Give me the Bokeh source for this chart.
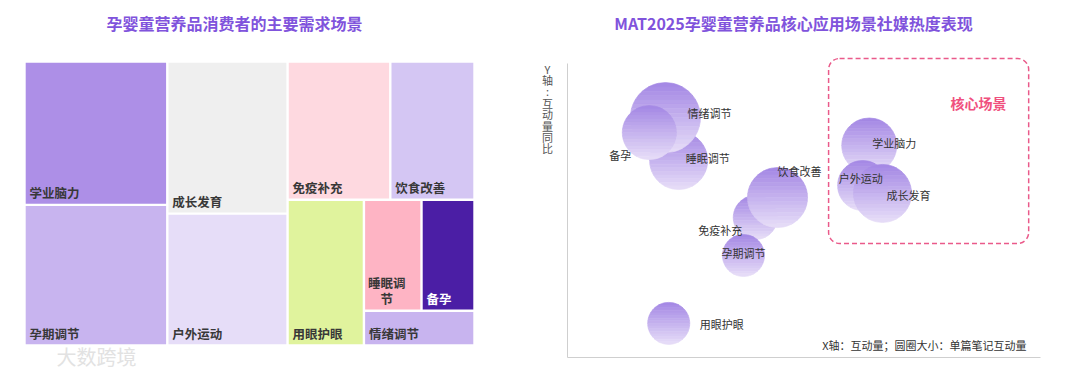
import math
from bokeh.plotting import figure
from bokeh.models import Range1d, BoxAnnotation
from bokeh.core.properties import value
from bokeh.embed import file_html
from bokeh.resources import INLINE

# ------------------------------------------------------------------ data
# Left: treemap of main demand scenarios (share of consumers, %)
tm_categories = ["学业脑力", "孕期调节", "成长发育", "户外运动", "免疫补充",
                 "饮食改善", "用眼护眼", "睡眠调节", "备孕", "情绪调节"]
tm_shares = [16.0, 15.7, 14.3, 12.4, 11.1, 9.1, 8.7, 5.0, 4.6, 3.0]

# Right: bubble chart (index values)
bb_categories = ["睡眠调节", "情绪调节", "备孕", "免疫补充", "饮食改善",
                 "孕期调节", "用眼护眼", "学业脑力", "户外运动", "成长发育"]
bb_interaction = [23.5, 20.7, 17.3, 39.7, 44.4, 37.2, 21.4, 63.8, 62.4, 66.6]   # X: 互动量
bb_yoy = [67.0, 81.6, 76.5, 47.6, 54.4, 34.7, 11.6, 72.1, 58.5, 55.8]           # Y: 互动量同比
bb_note_eng = [58, 70, 54, 44, 60, 42, 42, 55, 50, 58]                          # 单篇笔记互动量

title_left = "孕婴童营养品消费者的主要需求场景"
title_right = "MAT2025孕婴童营养品核心应用场景社媒热度表现"
y_axis_label = ["Y", "轴", ":", "互", "动", "量", "同", "比"]
x_note = "X轴：互动量；圆圈大小：单篇笔记互动量"
core_label = "核心场景"

# ------------------------------------------------------------------ styles
FONT = value("Noto Sans CJK SC")
TITLE_COLOR = "#8053dc"
tm_colors = ["#ad8fe7", "#c8b4ef", "#efefef", "#e6ddf8", "#fed9e0",
             "#d4c6f3", "#e0f39d", "#feb4c4", "#4b1ea5", "#c8b4ef"]

W, H = 1080, 376
p = figure(width=W, height=H, x_range=Range1d(0, W), y_range=Range1d(H, 0),
           output_backend="svg", toolbar_location=None,
           x_axis_type=None, y_axis_type=None, min_border=0)
p.outline_line_color = None
p.background_fill_color = "white"
p.border_fill_color = "white"

# ------------------------------------------------------------------ titles
p.text(x=[234, 793], y=[22, 22], text=[title_left, title_right],
       text_font=FONT, text_font_size="16px", text_font_style="bold",
       text_color=TITLE_COLOR, text_align="center", text_baseline="middle")

# ------------------------------------------------------------------ treemap
TM_X, TM_Y, TM_W, TM_H = 24, 61, 450, 284
TREE = ("h", [("v", [0, 1]), ("v", [2, 3]),
              ("v", [("h", [4, 5]), ("h", [6, ("v", [("h", [7, 8]), 9])])])])


def node_sum(node):
    if isinstance(node, int):
        return tm_shares[node]
    return sum(node_sum(c) for c in node[1])


def layout(node, x, y, w, h, out):
    if isinstance(node, int):
        out[node] = (x, y, w, h)
        return
    d, children = node
    tot = node_sum(node)
    pos = 0.0
    for c in children:
        f = node_sum(c) / tot
        if d == "h":
            layout(c, x + pos * w, y, f * w, h, out)
        else:
            layout(c, x, y + pos * h, w, f * h, out)
        pos += f


rects = {}
layout(TREE, TM_X, TM_Y, TM_W, TM_H, rects)
g = 1.2
L, R, T, B = [], [], [], []
for i in range(len(tm_categories)):
    x, y, w, h = rects[i]
    L.append(x + g); R.append(x + w - g); T.append(y + g); B.append(y + h - g)
p.quad(left=L, right=R, top=T, bottom=B, fill_color=tm_colors, line_color=None)

lx, ly, lt, lc, cx_, cy_, ct, cc = [], [], [], [], [], [], [], []
CH = 12.5
for i, name in enumerate(tm_categories):
    x, y, w, h = rects[i]
    col = tm_colors[i]
    rr, gg, bb = int(col[1:3], 16), int(col[3:5], 16), int(col[5:7], 16)
    tc = "white" if (0.299 * rr + 0.587 * gg + 0.114 * bb) < 120 else "#383838"
    maxc = int((w - 10) / CH)
    if len(name) <= maxc:
        lx.append(x + 5); ly.append(y + h - 12); lt.append(name); lc.append(tc)
    else:
        lines = [name[k:k + maxc] for k in range(0, len(name), maxc)]
        n = len(lines)
        for j, ln in enumerate(lines):
            cx_.append(x + 4 + maxc * CH / 2)
            cy_.append(y + h - 12 - (n - 1 - j) * 16)
            ct.append(ln); cc.append(tc)
p.text(x=lx, y=ly, text=lt, text_color=lc, text_font=FONT, text_font_size="12.5px",
       text_font_style="bold", text_align="left", text_baseline="middle")
if ct:
    p.text(x=cx_, y=cy_, text=ct, text_color=cc, text_font=FONT, text_font_size="12.5px",
           text_font_style="bold", text_align="center", text_baseline="middle")

# ------------------------------------------------------------------ bubble chart
PX0, PX1 = 567, 1040
PY0, PY1 = 357, 63
sx = (PX1 - PX0) / 100.0
sy = (PY0 - PY1) / 100.0
p.extra_x_ranges = {"bx": Range1d(-PX0 / sx, 100 + (W - PX1) / sx)}
p.extra_y_ranges = {"by": Range1d(-(H - PY0) / sy, 100 + PY1 / sy)}

# axis lines
p.segment(x0=[0, 0], y0=[0, 0], x1=[0, 100], y1=[100, 0], x_range_name="bx",
          y_range_name="by", line_color="#cfcfcf", line_width=1)

# core box
p.add_layout(BoxAnnotation(left=55.2, right=97.5, bottom=38.8, top=101.7,
                           x_range_name="bx", y_range_name="by",
                           fill_alpha=0, line_color="#ea5a8a", line_alpha=1.0,
                           line_width=1.5, line_dash="5 3", border_radius=11))
p.text(x=[86.9], y=[86.7], text=[core_label], x_range_name="bx", y_range_name="by",
       text_font=FONT, text_font_size="14px", text_font_style="bold",
       text_color="#f0507e", text_align="center", text_baseline="middle")


def hex2rgb(c):
    return [int(c[i:i + 2], 16) for i in (1, 3, 5)]


TOP, BOT = hex2rgb("#a386e4"), hex2rgb("#e7def8")
N = 16
xs_all, ys_all, fc_all = [], [], []
for cxv, cyv, val in zip(bb_interaction, bb_yoy, bb_note_eng):
    r = val / 2.0
    for k in range(N):
        h1 = r - 2 * r * k / N
        h2 = r - 2 * r * (k + 1) / N
        hs = [h1 + (h2 - h1) * t / 6 for t in range(7)]
        right = [(math.sqrt(max(0.0, r * r - hh * hh)), hh) for hh in hs]
        left = [(-dx, hh) for dx, hh in reversed(right)]
        pts = right + left
        xs_all.append([cxv + dx / sx for dx, _ in pts])
        ys_all.append([cyv + hh / sy for _, hh in pts])
        t = (k + 0.5) / N
        rgb = [int(round(a + (b - a) * t)) for a, b in zip(TOP, BOT)]
        fc_all.append("#%02x%02x%02x" % tuple(rgb))
p.patches(xs=xs_all, ys=ys_all, fill_color=fc_all, line_color=fc_all, line_width=0.7,
          x_range_name="bx", y_range_name="by")

# bubble labels (offsets in px, screen-down positive)
lab_style = {
    "睡眠调节": ("left", 7, -3), "情绪调节": ("left", 22, -5), "备孕": ("right", -18, 22),
    "免疫补充": ("right", -13, 12), "饮食改善": ("left", 0, -27), "孕期调节": ("center", 0, -2),
    "用眼护眼": ("left", 31, 1), "学业脑力": ("left", 3, -3), "户外运动": ("left", -24, -8),
    "成长发育": ("left", 4, 2),
}
for align in ("left", "right", "center"):
    xx, yy, tt = [], [], []
    for name, cxv, cyv in zip(bb_categories, bb_interaction, bb_yoy):
        a, dx, dy = lab_style[name]
        if a != align:
            continue
        xx.append(cxv + dx / sx); yy.append(cyv - dy / sy); tt.append(name)
    if tt:
        p.text(x=xx, y=yy, text=tt, x_range_name="bx", y_range_name="by",
               text_font=FONT, text_font_size="11px", text_color="#333333",
               text_align=align, text_baseline="middle")

# y axis label (vertical stacked characters)
p.text(x=[547] * len(y_axis_label), y=[68 + 11.4 * i for i in range(len(y_axis_label))],
       text=y_axis_label, text_font=FONT, text_font_size="11px", text_color="#555555",
       text_align="center", text_baseline="middle")

# x note
p.text(x=[1026], y=[344], text=[x_note], text_font=FONT, text_font_size="11px",
       text_color="#333333", text_align="right", text_baseline="middle")

# watermark
p.text(x=[56], y=[356], text=["大数跨境"], text_font=FONT, text_font_size="20px",
       text_color="#e2e2e2", text_align="left", text_baseline="middle")

open("out.html", "w").write(file_html(p, INLINE))
